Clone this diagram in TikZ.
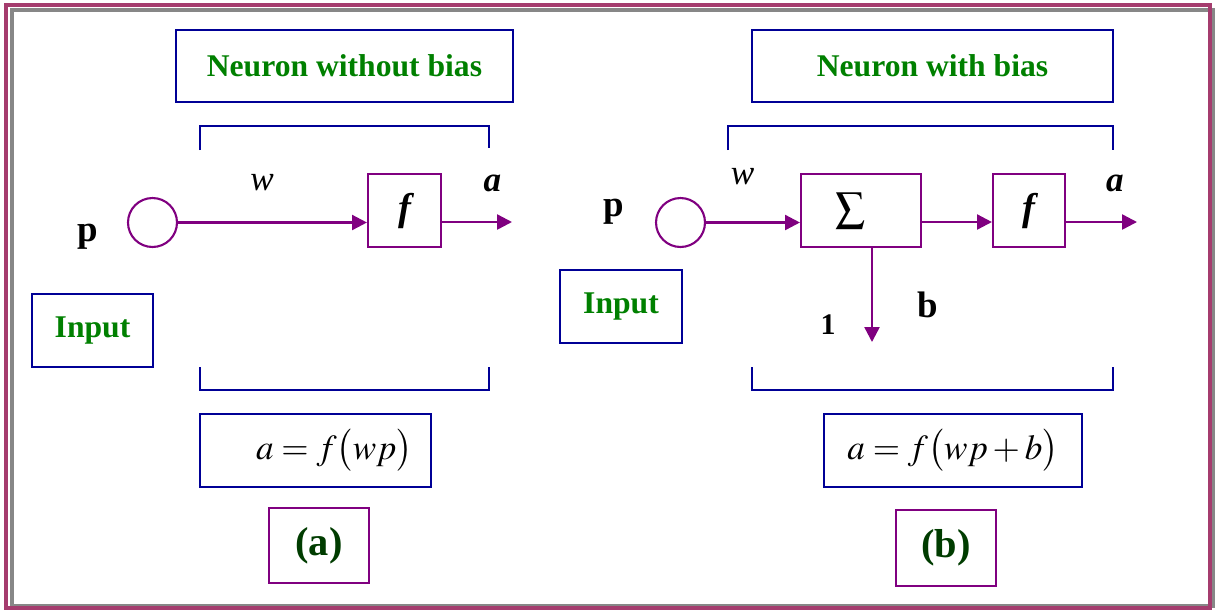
\documentclass[tikz,border=0pt]{standalone}
\usepackage{amsmath}
\usepackage{mathptmx}
\usepackage{fontspec}
\setmainfont{Liberation Serif}
\usepackage{tikz}
\usetikzlibrary{arrows.meta}
\definecolor{framered}{RGB}{165,60,110}
\definecolor{framegray}{RGB}{135,135,135}
\definecolor{boxblue}{RGB}{0,0,150}
\definecolor{wirepurple}{RGB}{128,0,128}
\definecolor{titlegreen}{RGB}{0,128,0}
\definecolor{labelgreen}{RGB}{0,60,0}
\tikzset{
    wire/.style={
        draw=wirepurple, line width=1.4pt, % purple signal lines
        -{Triangle[length=8.5pt, width=8.5pt]}
    },
    unitbox/.style={draw=wirepurple, line width=1.2pt, inner sep=0pt, minimum height=1.46cm},
    inputnode/.style={circle, draw=wirepurple, line width=1.2pt, inner sep=0pt, minimum size=0.98cm},
    bluebox/.style={draw=boxblue, line width=1.3pt, inner sep=0pt, minimum height=1.46cm},
    greentext/.style={text=titlegreen, font=\fontsize{18}{20}\selectfont\bfseries},
    bracket/.style={draw=boxblue, line width=1.5pt},
    caption/.style={draw=wirepurple, line width=1.2pt, inner sep=0pt, minimum width=2cm,
        minimum height=1.5cm, text=labelgreen, font=\fontsize{23}{26}\selectfont\bfseries},
    weight/.style={font=\fontsize{20}{22}\selectfont\itshape, inner sep=0pt},
    outlabel/.style={font=\fontsize{20}{22}\selectfont\bfseries\itshape, inner sep=0pt},
    biglabel/.style={font=\fontsize{21}{24}\selectfont\bfseries, inner sep=0pt}
}

\begin{document}
\begin{tikzpicture}[x=0.02cm, y=-0.02cm]
\useasboundingbox (0,0) rectangle (1216,610);
\draw[framegray, line width=1.8pt] (12,10) rectangle (1213,606);
\draw[framered, line width=1.8pt] (6,5) rectangle (1210,608);

% (a) neuron without bias
\node[bluebox, greentext, minimum width=6.74cm, minimum height=1.44cm] (T1) at (344.5,66) {Neuron without bias};
\draw[bracket] (200,150) -- (200,126) -- (489,126) -- (489,148);
\draw[bracket] (200,367) -- (200,390) -- (489,390) -- (489,367);
\node[inputnode] (P1) at (152.5,222.5) {};
\node[biglabel] (PL1) at (88,237) {p};
\node[bluebox, greentext, minimum width=2.42cm] (I1) at (92.5,330.5) {Input};
\node[unitbox, minimum width=1.46cm, font=\fontsize{22}{24}\selectfont\bfseries\itshape] (F1) at (404.5,210.5) {f};
\coordinate (O1) at (512,222);
\draw[wire] (P1.east) -- (P1.east -| F1.west) node[weight, pos=0.445, yshift=22.8pt] {w};
\draw[wire] (F1.east |- O1) -- (O1) node[outlabel, pos=0.72, yshift=22pt] {a};
\node[bluebox, minimum width=4.62cm, font=\fontsize{20}{24}\selectfont] (E1) at (315.5,450.5) {\hspace{0.75cm}$a = f\bigl(wp\bigr)$};
\node[caption] (C1) at (319,545.5) {(a)};

% (b) neuron with bias
\node[bluebox, greentext, minimum width=7.22cm, minimum height=1.44cm] (T2) at (932.5,66) {Neuron with bias};
\draw[bracket] (728,150) -- (728,126) -- (1113,126) -- (1113,150);
\draw[bracket] (752,367) -- (752,390) -- (1113,390) -- (1113,367);
\node[inputnode] (P2) at (680.5,222.5) {};
\node[biglabel] (PL2) at (614,212) {p};
\node[bluebox, greentext, minimum width=2.44cm] (I2) at (621,306.5) {Input};
\node[unitbox, minimum width=2.4cm, font=\fontsize{24}{26}\selectfont] (S2) at (861,210.5) {$\sum$\rule{0.4cm}{0pt}};
\node[unitbox, minimum width=1.44cm, font=\fontsize{22}{24}\selectfont\bfseries\itshape] (F2) at (1029,210.5) {f};
\coordinate (O2) at (1137,222);
\coordinate (B2) at (872,342);
\draw[wire] (P2.east) -- (P2.east -| S2.west) node[weight, pos=0.39, yshift=26pt] {w};
\draw[wire] (S2.east |- O2) -- (F2.west |- O2);
\draw[wire] (F2.east |- O2) -- (O2) node[outlabel, pos=0.69, yshift=22pt] {a};
\draw[wire] (S2.south -| B2) -- (B2)
    node[pos=0.82, xshift=-25pt, inner sep=0pt, font=\fontsize{17}{20}\selectfont\bfseries] {1}
    node[biglabel, pos=0.61, xshift=32pt] {b};
\node[bluebox, minimum width=5.16cm, font=\fontsize{20}{24}\selectfont] (E2) at (953,450.5) {$a = f\bigl(wp + b\bigr)$};
\node[caption, minimum height=1.52cm] (C2) at (946,548) {(b)};
\end{tikzpicture}
\end{document}
